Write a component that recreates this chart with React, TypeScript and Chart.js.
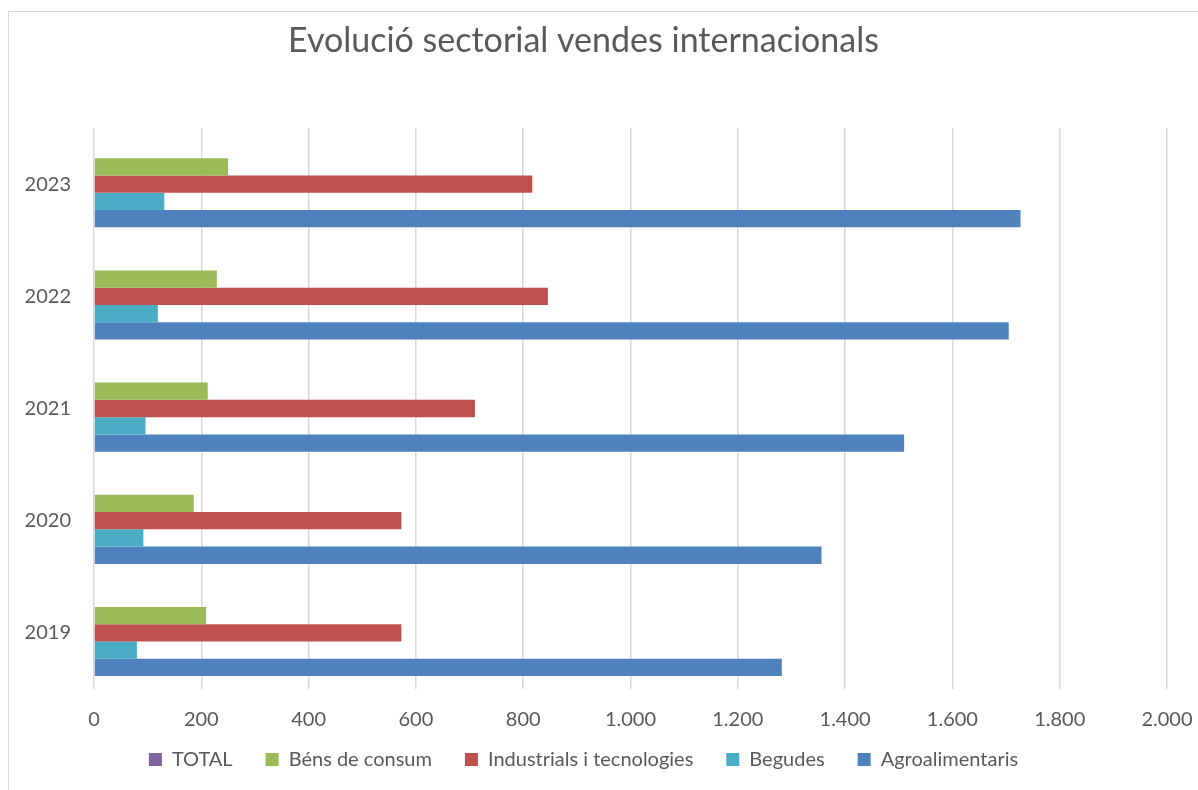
import React, { useEffect, useRef } from "react";
import { Chart, registerables } from "chart.js";

Chart.register(...registerables);

const years = ["2023", "2022", "2021", "2020", "2019"];
const total: (number | null)[] = [null, null, null, null, null];
const bensConsum = [250, 229, 212, 186, 209];
const industrials = [817, 846, 710, 573, 573];
const begudes = [131, 119, 96, 92, 80];
const agroalimentaris = [1727, 1705, 1510, 1356, 1282];

const TEXT = "#595959";
const FONT = "Lato";

function fmt(v: number): string {
  return String(Math.round(v)).replace(/\B(?=(\d{3})+(?!\d))/g, ".");
}

export default function App() {
  const ref = useRef<HTMLCanvasElement | null>(null);
  useEffect(() => {
    if (!ref.current) return;
    const chart = new Chart(ref.current, {
      type: "bar",
      data: {
        labels: years,
        datasets: [
          { label: "TOTAL", data: total, backgroundColor: "#8064A2" },
          { label: "Béns de consum", data: bensConsum, backgroundColor: "#9BBB59" },
          { label: "Industrials i tecnologies", data: industrials, backgroundColor: "#C0504D" },
          { label: "Begudes", data: begudes, backgroundColor: "#4BACC6" },
          { label: "Agroalimentaris", data: agroalimentaris, backgroundColor: "#4F81BD" },
        ],
      },
      options: {
        indexAxis: "y",
        animation: false,
        responsive: false,
        maintainAspectRatio: false,
        layout: { padding: { top: 0, left: 0, right: 31, bottom: 10.5 } },
        datasets: { bar: { barPercentage: 1, categoryPercentage: 0.77 } },
        plugins: {
          title: {
            display: true,
            text: "Evolució sectorial vendes internacionals",
            color: TEXT,
            font: { family: FONT, size: 34, weight: "normal", lineHeight: 1.2 },
            padding: { top: 21, bottom: 66.2 },
          },
          legend: {
            position: "bottom",
            labels: {
              color: TEXT,
              font: { family: FONT, size: 20 },
              boxWidth: 13,
              boxHeight: 13,
              padding: 33,
            },
          },
          tooltip: { enabled: false },
        },
        scales: {
          x: {
            min: 0,
            max: 2000,
            ticks: {
              stepSize: 200,
              color: TEXT,
              font: { family: FONT, size: 20 },
              padding: 19,
              callback: (v: any) => fmt(Number(v)),
            },
            grid: { color: "#D9D9D9", lineWidth: 1.5, drawTicks: false },
            border: { display: false },
            afterFit: (scale: any) => {
              scale.height = 27.5;
              scale.paddingRight = 0;
              scale.paddingLeft = 0;
              scale._computeLabelArea = () => undefined;
            },
          },
          y: {
            ticks: {
              color: TEXT,
              font: { family: FONT, size: 20 },
              padding: 23,
            },
            grid: { display: false, drawTicks: false },
            border: { display: false },
            afterFit: (scale: any) => {
              scale.width = 94;
            },
          },
        },
      },
    });
    return () => chart.destroy();
  }, []);
  return (
    <div
      style={{
        position: "fixed",
        left: 0,
        top: 0,
        width: 1198,
        height: 790,
        overflow: "hidden",
        background: "#fff",
      }}
    >
      <div
        style={{
          position: "absolute",
          left: 8,
          top: 11,
          width: 1300,
          height: 900,
          border: "1px solid #D9D9D9",
        }}
      />
      <canvas
        ref={ref}
        width={1198}
        height={790}
        style={{ position: "absolute", left: 0, top: 0, width: 1198, height: 790 }}
      />
    </div>
  );
}
